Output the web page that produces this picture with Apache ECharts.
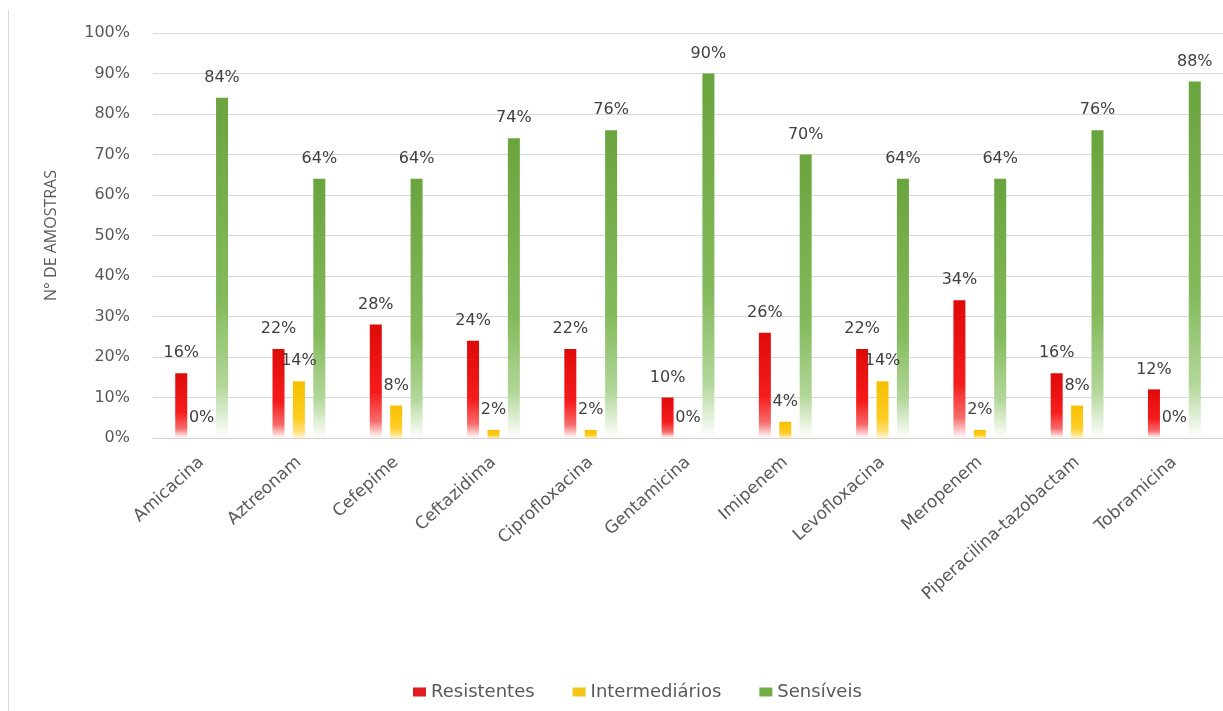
<!DOCTYPE html>
<html>
<head>
<meta charset="utf-8">
<script src="https://cdn.jsdelivr.net/npm/echarts@6/dist/echarts.min.js"></script>
<style>
html,body{margin:0;padding:0;background:#fff;}
#chart{width:1223px;height:711px;}
</style>
</head>
<body>
<div id="chart"></div>
<script>
const categories = ['Amicacina','Aztreonam','Cefepime','Ceftazidima','Ciprofloxacina','Gentamicina','Imipenem','Levofloxacina','Meropenem','Piperacilina-tazobactam','Tobramicina'];
const resistentes = [16,22,28,24,22,10,26,22,34,16,12];
const intermediarios = [0,14,8,2,2,0,4,14,2,8,0];
const sensiveis = [84,64,64,74,76,90,70,64,64,76,88];
const yTicks = [0,10,20,30,40,50,60,70,80,90,100];

function grad(stops){
  return {type:'linear',x:0,y:0,x2:0,y2:1,colorStops:stops.map(s=>({offset:s[0],color:s[1]}))};
}
const FONT = 'DejaVu Sans';
const labelCfg = {show:true, position:'top', distance:12, formatter:'{c}%', color:'#404040', fontFamily:FONT, fontSize:16};

const chart = echarts.init(document.getElementById('chart'), null, {renderer:'canvas'});
chart.setOption({
  animation:false,
  backgroundColor:'#ffffff',
  graphic:[{type:'line', shape:{x1:8.5,y1:10,x2:8.5,y2:711}, style:{stroke:'#d9d9d9', lineWidth:1}}],
  grid:{left:153, right:-2, top:33, bottom:273, containLabel:false},
  legend:{
    left:408, top:678, icon:'rect', itemWidth:13, itemHeight:9, itemGap:38,
    textStyle:{color:'#595959', fontFamily:FONT, fontSize:18},
    data:[
      {name:'Resistentes', itemStyle:{color:'#e01b24'}},
      {name:'Intermediários', itemStyle:{color:'#f5c518'}},
      {name:'Sensíveis', itemStyle:{color:'#70ad47'}}
    ]
  },
  xAxis:{
    type:'category', data:categories,
    axisLine:{show:true, lineStyle:{color:'#d0d0d0'}},
    axisTick:{show:false},
    axisLabel:{rotate:42, interval:0, margin:22, color:'#595959', fontFamily:FONT, fontSize:17}
  },
  yAxis:{
    type:'value', min:0, max:100, interval:10,
    name:'N° DE AMOSTRAS', nameLocation:'middle', nameGap:94, nameRotate:90,
    nameTextStyle:{color:'#595959', fontFamily:'Open Sans', fontSize:16},
    axisLine:{show:false}, axisTick:{show:false},
    axisLabel:{formatter:function(v){return yTicks.indexOf(v)>=0 ? v+'%' : '';}, margin:23, color:'#595959', fontFamily:FONT, fontSize:16},
    splitLine:{lineStyle:{color:'#d9d9d9', width:1}}
  },
  series:[
    {name:'Resistentes', type:'bar', data:resistentes, barWidth:12, barGap:'70%',
      itemStyle:{color:grad([[0,'#de0a0a'],[0.6,'#f51c1c'],[0.85,'#f76a6a'],[1,'#ffffff']])},
      label:labelCfg},
    {name:'Intermediários', type:'bar', data:intermediarios, barWidth:12, barGap:'70%',
      itemStyle:{color:grad([[0,'#f5c000'],[0.65,'#ffcc22'],[0.88,'#ffe07a'],[1,'#fff6d8']])},
      label:labelCfg},
    {name:'Sensíveis', type:'bar', data:sensiveis, barWidth:12, barGap:'70%',
      itemStyle:{color:grad([[0,'#6aa43e'],[0.6,'#84ba5c'],[0.85,'#b3d79a'],[1,'#ffffff']])},
      label:labelCfg}
  ]
});
</script>
</body>
</html>
